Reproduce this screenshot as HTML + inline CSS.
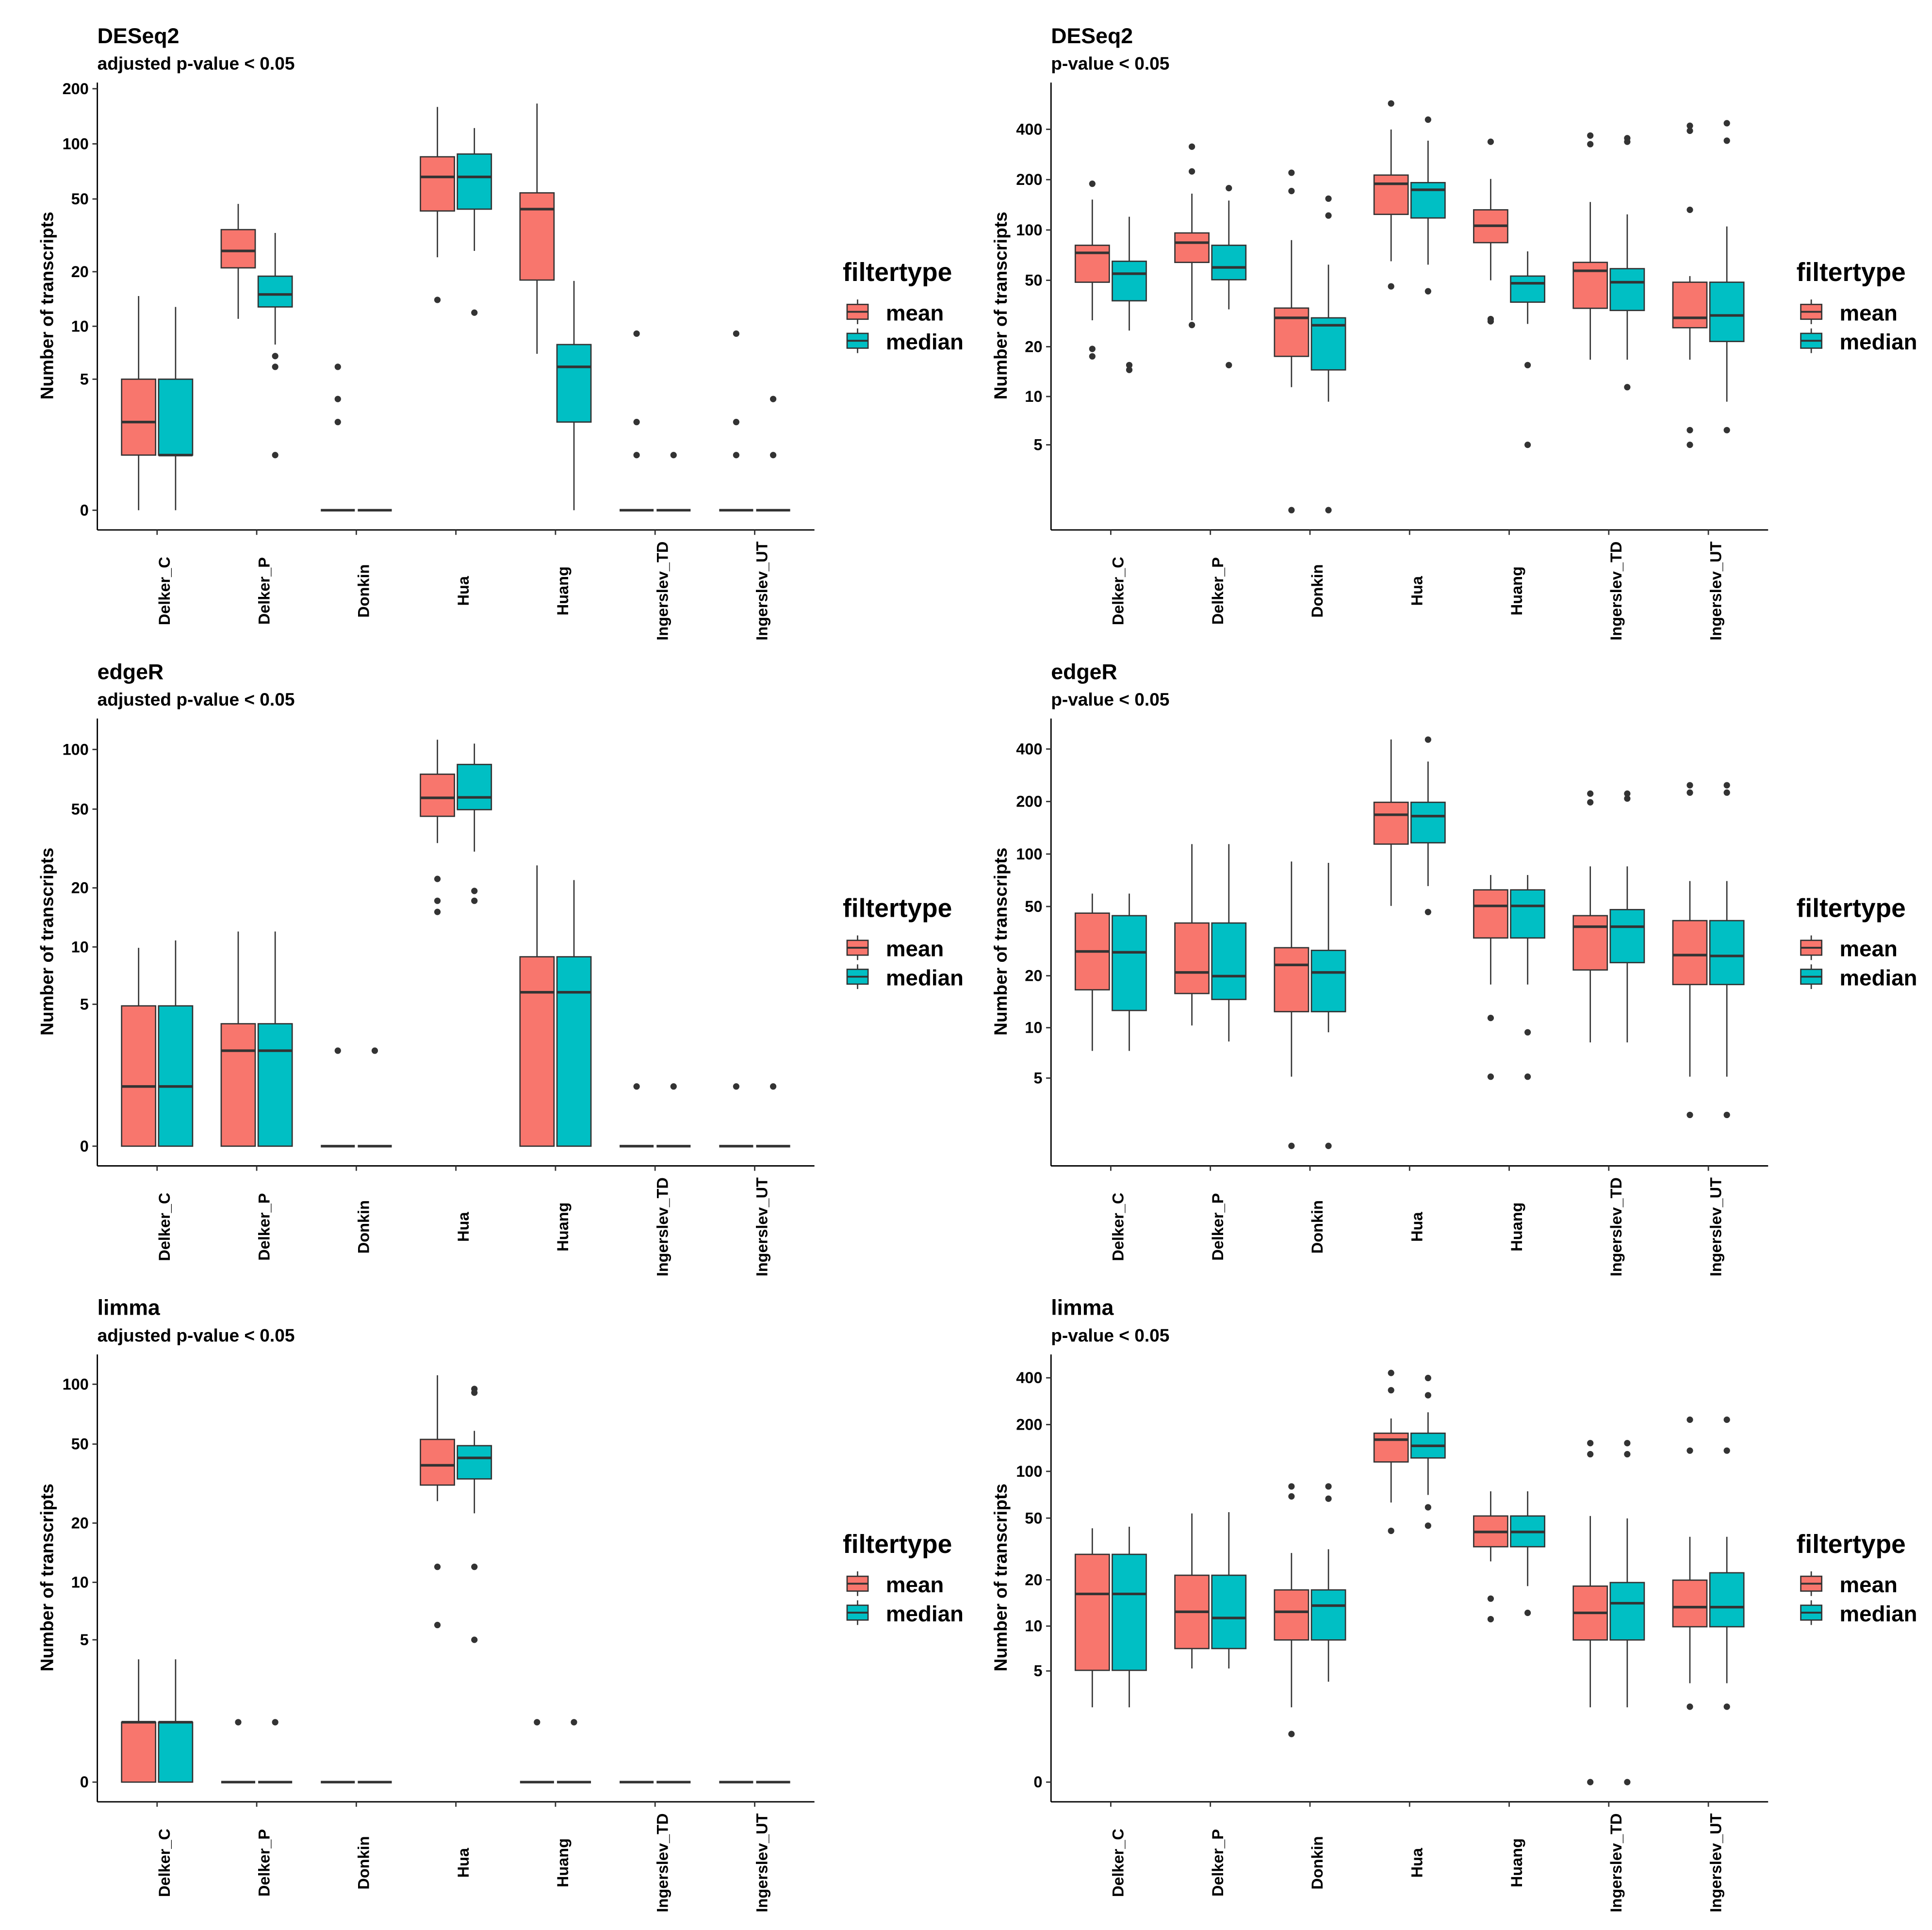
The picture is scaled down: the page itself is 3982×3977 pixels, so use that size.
<!DOCTYPE html>
<html><head><meta charset="utf-8"><style>
html,body{margin:0;padding:0;background:#fff}
svg{display:block}
text{font-family:"Liberation Sans",Arial,sans-serif;font-weight:bold;fill:#000}
</style></head><body>
<svg id="chart" xmlns="http://www.w3.org/2000/svg" width="3982" height="3977" viewBox="0 0 1568 1566" preserveAspectRatio="none"></svg>
<script>
const categories = ["Delker_C","Delker_P","Donkin","Hua","Huang","Ingerslev_TD","Ingerslev_UT"];
const seriesNames = ["mean","median"];
const Z = [0,0,0,0,0];
// [lower whisker, q1, median, q3, upper whisker]
const p1_mean = [[0,1.5,2.7,5,14.7],[11,21,26,34,47],Z,[24,43,66,85,159],[7,18,44,54,166],Z,Z];
const p1_meanOut = [[],[],[5.9,3.8,2.7],[14],[],[9.1,2.7,1.5],[9.1,2.7,1.5]];
const p1_median = [[0,1.5,1.5,5,12.8],[7.9,12.8,15,18.9,32.6],Z,[26,44,66,88,122],[0,2.7,5.9,7.9,17.8],Z,Z];
const p1_medianOut = [[],[6.8,5.9,1.5],[],[11.9],[],[1.5],[3.8,1.5]];

const p2_mean = [[28.8,48.7,73,81,152],[28.8,64,84,96,165],[11.4,17.5,29.8,34.1,87],[65,124,189,213,399],[50,84,106,132,202],[16.7,34,57,64,147],[16.7,26,29.8,48.7,53]];
const p2_meanOut = [[189,19.4,17.5],[315,224,27],[220,171,1.64],[571,46],[337,29.3,28.4],[367,326],[420,392,132,6.2,5]];
const p2_median = [[25,37.7,54.8,65,120],[33.5,50.4,59.7,81,150],[9.3,14.5,26.9,29.8,62],[62,118,174,192,342],[27.4,37,48,53,74.5],[16.7,33,48.7,58.7,124],[9.3,21.5,30.8,48.7,105]];
const p2_medianOut = [[15.5,14.5],[178,15.5],[154,122,1.64],[457,43],[15.5,5],[354,337,11.4],[435,342,6.2]];

const p3_mean = [[0,0,1.5,4.9,9.9],[0,0,2.7,3.9,12],Z,[33.7,46,57,75,112],[0,0,5.8,8.9,26],Z,Z];
const p3_meanOut = [[],[],[2.7],[22.2,17.2,15.1],[],[1.5],[1.5]];
const p3_median = [[0,0,1.5,4.9,10.8],[0,0,2.7,3.9,12],Z,[30.5,49.7,57.3,84,107],[0,0,5.8,8.9,21.9],Z,Z];
const p3_medianOut = [[],[],[2.7],[19.3,17.2],[],[1.5],[1.5]];

const p4_mean = [[7.3,16.6,27.6,45.8,59.3],[10.3,15.8,20.9,40.2,114],[5.1,12.4,23.1,29,90.6],[50.4,114,168,198,454],[17.8,33,50.4,62.3,75.8],[8.2,21.6,38.3,44.3,85],[5.1,17.8,26.3,41.5,70]];
const p4_meanOut = [[],[],[1.65],[],[11.4,5.1],[222,198],[248,225,2.88]];
const p4_median = [[7.3,12.6,27.3,44.3,59.3],[8.3,14.6,19.9,40.2,114],[9.4,12.4,20.9,28,89],[65.5,116,165,198,339],[17.8,33,50.4,62.3,75.8],[8.2,23.8,38.3,48,85],[5.1,17.8,26,41.5,70]];
const p4_medianOut = [[],[],[1.65],[453,46.5],[9.4,5.1],[222,208],[248,225,2.88]];

const p5_mean = [[0,0,1.5,1.5,3.9],Z,Z,[25.8,31.1,39.1,52.8,111],Z,Z,Z];
const p5_meanOut = [[],[1.5],[],[12,6],[1.5],[],[]];
const p5_median = [[0,0,1.5,1.5,3.9],Z,Z,[22.4,33.4,42.6,49.1,58.3],Z,Z,Z];
const p5_medianOut = [[],[1.5],[],[94.7,90.7,12,5],[1.5],[],[]];

const p6_mean = [[2.7,5.05,16.2,29.2,43],[5.2,7.1,12.4,21.4,53.6],[2.7,8.1,12.4,17.2,29.8],[63,115,160,176,219],[26.3,32.7,40.7,51.6,74.4],[2.7,8.1,12.2,18.2,51.6],[4.1,9.9,13.3,19.9,37.9]];
const p6_meanOut = [[],[],[80,69,1.55],[430,333,41.4],[15.1,11.1],[152,129,0],[215,136,2.73]];
const p6_median = [[2.7,5.05,16.2,29.2,44],[5.2,7.1,11.3,21.4,54.6],[4.2,8.1,13.6,17.2,31.5],[70.5,122,146,176,240],[18.2,32.7,40.7,51.6,74.4],[2.7,8.1,14.1,19.2,49.8],[4.1,9.9,13.3,22.2,37.9]];
const p6_medianOut = [[],[],[80,66.7],[399,309,58.7,44.7],[12.2],[152,129,0],[215,136,2.73]];

const ticksLeftA = [0,5,10,20,50,100,200];
const ticksLeftB = [0,5,10,20,50,100];
const ticksRightA = [5,10,20,50,100,200,400];
const ticksRightB = [0,5,10,20,50,100,200,400];
const titles = ["DESeq2","DESeq2","edgeR","edgeR","limma","limma"];
const subtitles = ["adjusted p-value < 0.05","p-value < 0.05","adjusted p-value < 0.05","p-value < 0.05","adjusted p-value < 0.05","p-value < 0.05"];

const panels = [
 {x0:79,x1:661,dy:0,y0:414,k:64.55,ticks:ticksLeftA,mean:p1_mean,meanOut:p1_meanOut,median:p1_median,medianOut:p1_medianOut},
 {x0:853,x1:1435,dy:0,y0:458,k:58.93,ticks:ticksRightA,mean:p2_mean,meanOut:p2_meanOut,median:p2_median,medianOut:p2_medianOut},
 {x0:79,x1:661,dy:516,y0:930,k:69.9,ticks:ticksLeftB,mean:p3_mean,meanOut:p3_meanOut,median:p3_median,medianOut:p3_medianOut},
 {x0:853,x1:1435,dy:516,y0:976,k:61.46,ticks:ticksRightA,mean:p4_mean,meanOut:p4_meanOut,median:p4_median,medianOut:p4_medianOut},
 {x0:79,x1:661,dy:1032,y0:1446,k:70.1,ticks:ticksLeftB,mean:p5_mean,meanOut:p5_meanOut,median:p5_median,medianOut:p5_medianOut},
 {x0:853,x1:1435,dy:1032,y0:1446,k:54.75,ticks:ticksRightB,mean:p6_mean,meanOut:p6_meanOut,median:p6_median,medianOut:p6_medianOut}
];
const colors = ["#F8766D","#00BFC4"];
const svg = document.getElementById('chart');
const NS = "http://www.w3.org/2000/svg";
function mk(tag, attrs, parent, txt){
  const e = document.createElementNS(NS, tag);
  for (const a in attrs) e.setAttribute(a, attrs[a]);
  if (txt !== undefined) e.textContent = txt;
  parent.appendChild(e);
  return e;
}
panels.forEach((p, pi) => {
  const g = mk('g', {}, svg);
  
  
  const top = 67 + p.dy, bottom = 430 + p.dy;
  const yScale = v => p.y0 - p.k * Math.asinh(v/2);
  const u = (p.x1 - p.x0) / 7.2;
  const xScale = i => p.x0 + (i + 0.6) * u;
  const t = mk('text', {x:p.x0, y:35+p.dy, 'font-size':17.6}, g, titles[pi]);
  
  
  const st = mk('text', {x:p.x0, y:56.6+p.dy, 'font-size':14.6}, g, subtitles[pi]);
  
  
  const ya = mk('line', {x1:p.x0, y1:top, x2:p.x0, y2:bottom, stroke:'#000', 'stroke-width':1.1}, g);
  
  
  const xa = mk('line', {x1:p.x0, y1:bottom, x2:p.x1, y2:bottom, stroke:'#000', 'stroke-width':1.1}, g);
  
  
  p.ticks.forEach(v => {
    const y = yScale(v);
    mk('line', {x1:p.x0-4, y1:y, x2:p.x0, y2:y, stroke:'#333', 'stroke-width':1.1}, g);
    const tl = mk('text', {x:p.x0-7, y:y, 'font-size':12.8, 'text-anchor':'end', 'dominant-baseline':'central'}, g, String(v));
    
    
  });
  const yt = mk('text', {x:0, y:0, 'font-size':14.6, 'text-anchor':'middle', 'dominant-baseline':'central', transform:`translate(${p.x0-41},${248+p.dy}) rotate(-90)`}, g, 'Number of transcripts');
  
  
  categories.forEach((c, i) => {
    const cx = xScale(i);
    mk('line', {x1:cx, y1:bottom, x2:cx, y2:bottom+4, stroke:'#333', 'stroke-width':1.1}, g);
    const xl = mk('text', {x:0, y:0, 'font-size':12.8, 'text-anchor':'middle', 'dominant-baseline':'central', transform:`translate(${cx+6},${bottom+49.5}) rotate(-90)`}, g, c);
    
    
    [p.mean, p.median].forEach((series, si) => {
      const d = series[i];
      const outs = (si === 0 ? p.meanOut : p.medianOut)[i];
      const bc = cx + (si === 0 ? -15 : 15);
      const bw = 27.6;
      const bg = mk('g', {}, g);
      
      
      const yl = yScale(d[0]), yq1 = yScale(d[1]), ym = yScale(d[2]), yq3 = yScale(d[3]), yu = yScale(d[4]);
      mk('line', {x1:bc, y1:yu, x2:bc, y2:yq3, stroke:'#333', 'stroke-width':1.05}, bg);
      mk('line', {x1:bc, y1:yq1, x2:bc, y2:yl, stroke:'#333', 'stroke-width':1.05}, bg);
      mk('rect', {x:bc-bw/2, y:yq3, width:bw, height:Math.max(yq1-yq3,0), fill:colors[si], stroke:'#333', 'stroke-width':1.05}, bg);
      mk('line', {x1:bc-bw/2, y1:ym, x2:bc+bw/2, y2:ym, stroke:'#333', 'stroke-width':2.1}, bg);
      outs.forEach(o => {
        const dot = mk('circle', {cx:bc, cy:yScale(o), r:2.6, fill:'#333'}, bg);
        
        
      });
    });
  });
  const lx = p.x1 + 23;
  const lg = mk('g', {}, g);
  
  
  mk('text', {x:lx, y:228+p.dy, 'font-size':21}, lg, 'filtertype');
  seriesNames.forEach((s, si) => {
    const cy = 253 + si*23.5 + p.dy;
    const kx = lx + 12;
    const eg = mk('g', {}, lg);
    
    
    mk('line', {x1:kx, y1:cy-10, x2:kx, y2:cy+10, stroke:'#333', 'stroke-width':1.05}, eg);
    mk('rect', {x:kx-8.5, y:cy-6, width:17, height:12, fill:colors[si], stroke:'#333', 'stroke-width':1.05}, eg);
    mk('line', {x1:kx-8.5, y1:cy, x2:kx+8.5, y2:cy, stroke:'#333', 'stroke-width':1.5}, eg);
    mk('text', {x:lx+35, y:cy+7, 'font-size':18}, eg, s);
  });
});
</script>
</body></html>
